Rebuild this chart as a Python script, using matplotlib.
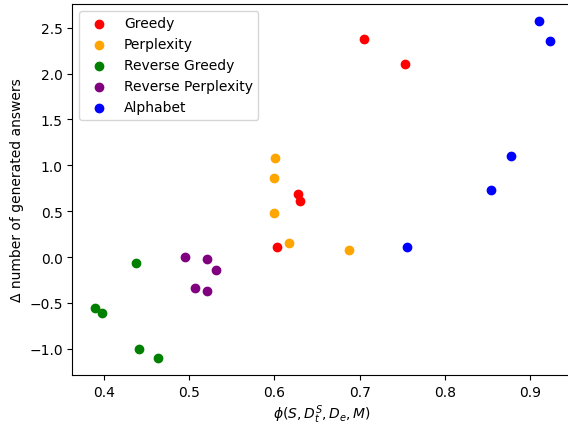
import matplotlib
matplotlib.use("Agg")
import matplotlib.pyplot as plt

# values
greedy_x = [0.7057, 0.7538, 0.628, 0.6304, 0.6035]
greedy_y = [2.378, 2.106, 0.683, 0.610, 0.109]

perplexity_x = [0.601, 0.600, 0.600, 0.6176, 0.688]
perplexity_y = [1.075, 0.865, 0.483, 0.153, 0.076]

rev_greedy_x = [0.4372, 0.3897, 0.3974, 0.4407, 0.463]
rev_greedy_y = [-0.068, -0.559, -0.613, -1.0, -1.102]

rev_perplexity_x = [0.4951, 0.5208, 0.5314, 0.5068, 0.5208]
rev_perplexity_y = [0.0, -0.022, -0.145, -0.341, -0.367]

alphabet_x = [0.911, 0.923, 0.8777, 0.8542, 0.7552]
alphabet_y = [2.574, 2.35, 1.097, 0.733, 0.112]

fig = plt.figure(figsize=(5.68, 4.27), dpi=100)
# the reference is cropped just left of the right spine
ax = fig.add_axes([0.1276, 0.1195, 0.880, 0.8688])

ax.scatter(greedy_x, greedy_y, color='red', label='Greedy')
ax.scatter(perplexity_x, perplexity_y, color='orange', label='Perplexity')
ax.scatter(rev_greedy_x, rev_greedy_y, color='green', label='Reverse Greedy')
ax.scatter(rev_perplexity_x, rev_perplexity_y, color='purple', label='Reverse Perplexity')
ax.scatter(alphabet_x, alphabet_y, color='blue', label='Alphabet')
ax.spines['right'].set_visible(False)

ax.set_xlabel(r'$\phi(S, D_t^S, D_e, M)$', labelpad=3)
ax.set_ylabel('Δ number of generated answers')
ax.legend(loc='upper left')

fig.savefig('out.png', dpi=100)
